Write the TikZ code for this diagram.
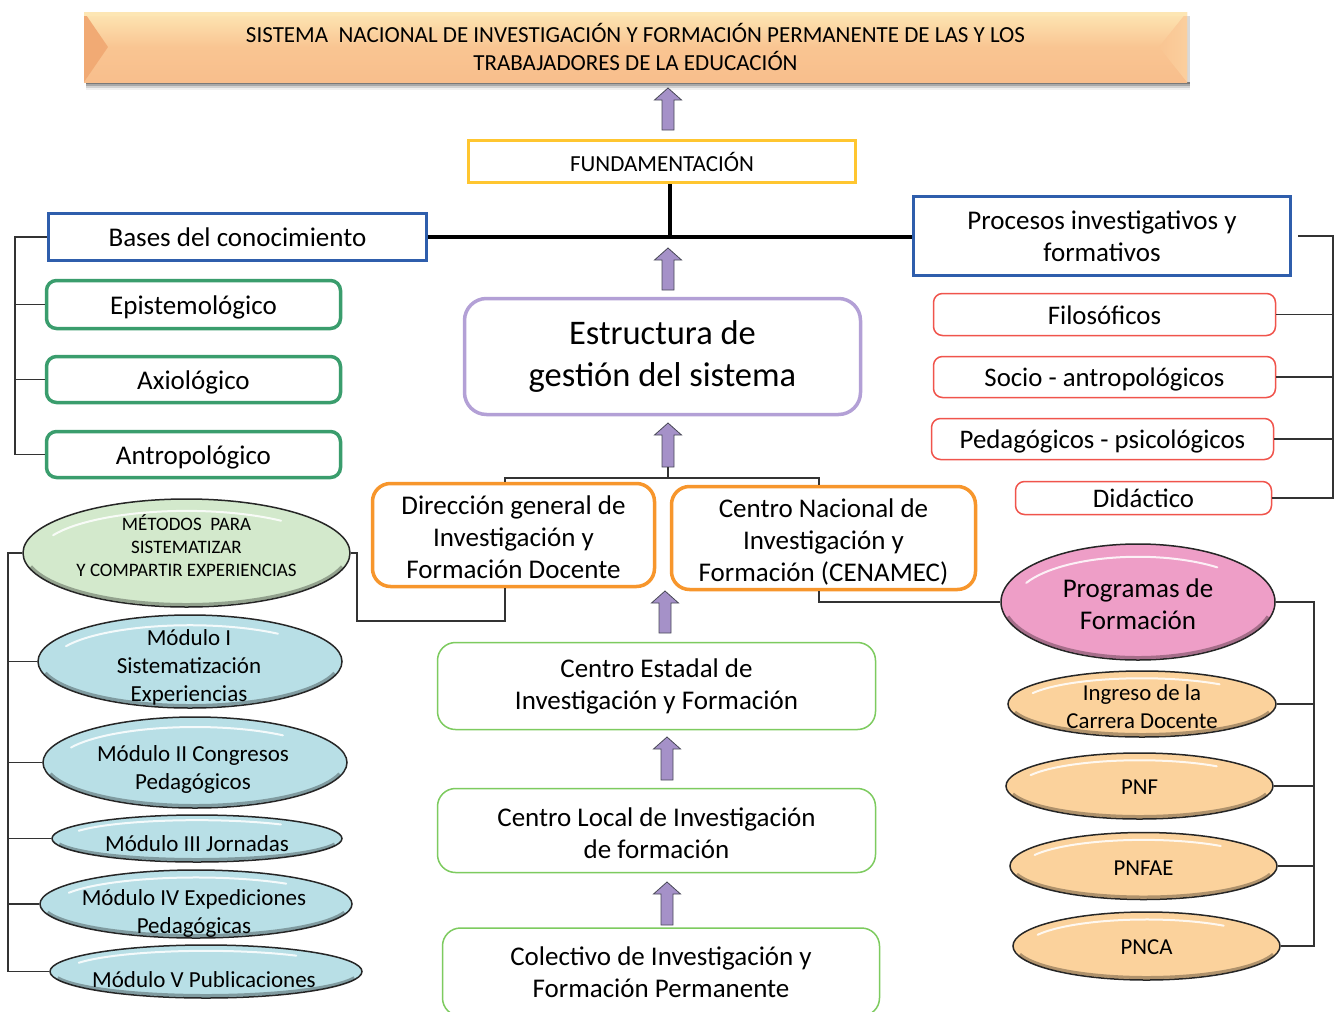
\documentclass[tikz,border=0pt]{standalone}
\usepackage{fontspec}
\setmainfont{Carlito}
\usetikzlibrary{calc,shapes.geometric}
\definecolor{cArrow}{HTML}{A591C8}
\definecolor{cArrowLine}{HTML}{4A4A58}
\definecolor{cYellow}{HTML}{FFC630}
\definecolor{cBlue}{HTML}{2F5EAC}
\definecolor{cPurple}{HTML}{B3A0D6}
\definecolor{cOrange}{HTML}{F7962C}
\definecolor{cLGreen}{HTML}{7DCB5F}
\definecolor{cDGreen}{HTML}{3A9D6D}
\definecolor{cRed}{HTML}{F0544C}
\definecolor{cLine}{HTML}{333333}
\definecolor{eGreen}{HTML}{D3E9CC}
\definecolor{eCyan}{HTML}{B8DFE6}
\definecolor{ePink}{HTML}{EE9EC7}
\definecolor{ePeach}{HTML}{FBD29C}
\definecolor{bTop}{HTML}{FDE6B4}
\definecolor{bMid}{HTML}{F9C592}
\definecolor{bBot}{HTML}{F8BE8C}
\definecolor{bLeft}{HTML}{F1AA74}
\definecolor{bRight}{HTML}{FBCF9E}
\newcommand{\myfs}[2]{\fontsize{#1pt}{#2pt}\selectfont}
\newcommand{\strutto}[1]{\rule{0pt}{#1pt}}
\newcommand{\blockup}[3]{%
  \filldraw[blockarrow] (#1,#2) -- (#1+13.5,#2+12) -- (#1+6,#2+12) -- (#1+6,#3) -- (#1-6,#3) -- (#1-6,#2+12) -- (#1-13.5,#2+12) -- cycle;}
\newcommand{\ellnode}[6]{%
  \node[ellbase, fill=#6, minimum width=#4pt, minimum height=#5pt] (#1) at (#2,#3) {};
  \draw[black, opacity=.3, line width=3pt] ($(#2,#3)+({(#4/2-2.5)*cos(165)},{(#5/2-2.5)*sin(165)})$)
     arc[start angle=165, end angle=15, x radius={#4/2-2.5}, y radius={#5/2-2.5}];
  \draw[white, opacity=.85, line width=2pt, line cap=round] ($(#2,#3)+({(#4/2)*0.9*cos(205)},{(#5/2)*0.78*sin(205)})$)
     arc[start angle=205, end angle=310, x radius={#4/2*0.9}, y radius={#5/2*0.78}];
}
\begin{document}
\begin{tikzpicture}[x=1pt,y=-1pt,
  blockarrow/.style={fill=cArrow, draw=cArrowLine, line width=0.8pt, line join=miter},
  conn/.style={draw=cLine, line width=1.3pt},
  box/.style={align=center, inner sep=0pt, text=black},
  sqbox/.style={box, draw, fill=white},
  rbox/.style={box, draw, fill=white},
  ellbase/.style={ellipse, draw=black!85, line width=1.5pt, inner sep=0pt},
  fbig/.style={font=\myfs{27}{32}},
  fmid/.style={font=\myfs{23}{28}},
  oneline/.style={text height=#1pt, text depth=6pt},
  ]
\useasboundingbox (0,0) rectangle (1339,1012);
\fill[white] (0,0) rectangle (1339,1012);

% ---------- banner ----------
\foreach \d/\o in {2/.28,4/.20,6/.12,8/.06}
  \fill[black,opacity=\o] (86,82) rectangle (1190,82+\d);
\fill[black,opacity=.15] (1187,16) rectangle (1190,82);
\node[box, minimum width=1103pt, minimum height=70pt,
  top color=bTop, bottom color=bBot, middle color=bMid,
  font=\myfs{23}{28},
  path picture={
    \shade[left color=bLeft, right color=bMid]
      (path picture bounding box.north west) -- ++(24pt,-35pt) -- (path picture bounding box.south west) -- cycle;
    \shade[left color=bMid, right color=bRight]
      (path picture bounding box.north east) -- ++(-28pt,-35pt) -- (path picture bounding box.south east) -- cycle;
    \fill[bTop] (path picture bounding box.north west) rectangle ([yshift=-4pt]path picture bounding box.north east);
  }] (banner) at (635.5,47)
  {SISTEMA~ NACIONAL DE INVESTIGACIÓN Y FORMACIÓN PERMANENTE DE LAS Y LOS\\TRABAJADORES DE LA EDUCACIÓN};

% ---------- central column ----------
\node[sqbox, draw=cYellow, line width=3pt, minimum width=387pt, minimum height=42pt, font=\myfs{23}{28}] (fund) at (662,161.5) {FUNDAMENTACIÓN};
\node[sqbox, fbig, draw=cBlue, line width=3.2pt, minimum width=378pt, minimum height=47pt] (bases) at (237.5,237) {Bases del conocimiento};
\node[sqbox, fbig, draw=cBlue, line width=3.2pt, minimum width=377pt, minimum height=79pt] (proc) at (1102,236) {Procesos investigativos y\\formativos};
\node[rbox, draw=cPurple, line width=3.5pt, rounded corners=22pt, minimum width=396pt, minimum height=116pt, font=\myfs{34.5}{42}] (estr) at (662.5,356.5) {Estructura de\\gestión del sistema};
\node[rbox, fbig, draw=cOrange, line width=3.5pt, rounded corners=18pt, minimum width=282pt, minimum height=103pt] (dir) at (513.5,535) {\strutto{24}Dirección general de\\Investigación y\\Formación Docente};
\node[rbox, fbig, draw=cOrange, line width=3.5pt, rounded corners=18pt, minimum width=304pt, minimum height=103pt] (cen) at (823.5,538) {\strutto{26}Centro Nacional de\\Investigación y\\Formación (CENAMEC)};
\node[rbox, fbig, draw=cLGreen, line width=1.5pt, rounded corners=18pt, minimum width=438pt, minimum height=87pt] (est) at (656.5,686) {Centro Estadal de\\Investigación y Formación};
\node[rbox, fbig, draw=cLGreen, line width=1.5pt, rounded corners=18pt, minimum width=438pt, minimum height=84pt] (loc) at (656.5,830.5) {\strutto{24}Centro Local de Investigación\\de formación};
\node[rbox, fbig, draw=cLGreen, line width=1.5pt, rounded corners=18pt, minimum width=437pt, minimum height=88pt] (col) at (661,972) {Colectivo de Investigación y\\Formación Permanente};

% ---------- left boxes ----------
\node[rbox, fbig, oneline=26, draw=cDGreen, line width=3.5pt, rounded corners=10pt, minimum width=294pt, minimum height=48pt] (epi) at (193.5,304.5) {Epistemológico};
\node[rbox, fbig, oneline=26, draw=cDGreen, line width=3.5pt, rounded corners=10pt, minimum width=294pt, minimum height=46pt] (axi) at (193.5,379.5) {Axiológico};
\node[rbox, fbig, oneline=26, draw=cDGreen, line width=3.5pt, rounded corners=10pt, minimum width=294pt, minimum height=46pt] (ant) at (193.5,454.5) {Antropológico};

% ---------- right boxes ----------
\node[rbox, font=\myfs{26.8}{30}, oneline=25, draw=cRed, line width=1.5pt, rounded corners=9pt, minimum width=342pt, minimum height=42pt] (fil) at (1104.5,314.5) {Filosóficos};
\node[rbox, font=\myfs{26.8}{30}, oneline=25, draw=cRed, line width=1.5pt, rounded corners=9pt, minimum width=342pt, minimum height=41pt] (soc) at (1104.5,377) {Socio - antropológicos};
\node[rbox, font=\myfs{26.8}{30}, oneline=24, draw=cRed, line width=1.5pt, rounded corners=9pt, minimum width=342pt, minimum height=41pt] (ped) at (1102.5,439) {Pedagógicos - psicológicos};
\node[rbox, font=\myfs{26.8}{30}, oneline=24, draw=cRed, line width=1.5pt, rounded corners=9pt, minimum width=256pt, minimum height=33pt] (did) at (1143.5,498) {Didáctico};

% ---------- left ellipses ----------
\ellnode{met}{186.5}{553}{327}{108}{eGreen}
\ellnode{m1}{190}{661.5}{304}{93}{eCyan}
\ellnode{m2}{195}{762.5}{304}{91}{eCyan}
\ellnode{m3}{197}{838.5}{290}{47}{eCyan}
\ellnode{m4}{196}{904}{312}{68}{eCyan}
\ellnode{m5}{206}{971.5}{312}{53}{eCyan}
\node[box, font=\myfs{19}{23}] (tmet) at ([yshift=7pt]met.center) {MÉTODOS~ PARA\\SISTEMATIZAR\\Y COMPARTIR EXPERIENCIAS};
\node[box, fmid] (tm1) at ([yshift=-6pt,xshift=-1pt]m1.center) {Módulo I\\Sistematización\\Experiencias};
\node[box, fmid] (tm2) at ([yshift=-6.5pt,xshift=-2pt]m2.center) {Módulo II Congresos\\Pedagógicos};
\node[box, fmid] (tm3) at ([yshift=-5.5pt]m3.center) {Módulo III Jornadas};
\node[box, fmid] (tm4) at ([yshift=-9pt,xshift=-2pt]m4.center) {Módulo IV Expediciones\\Pedagógicas};
\node[box, fmid] (tm5) at ([yshift=-8pt,xshift=-2pt]m5.center) {Módulo V Publicaciones};

% ---------- right ellipses ----------
\ellnode{prog}{1138}{602}{274}{116}{ePink}
\ellnode{ing}{1142}{704}{268}{66}{ePeach}
\ellnode{pnf}{1139.5}{786}{267}{66}{ePeach}
\ellnode{pnfae}{1143.5}{866}{267}{67}{ePeach}
\ellnode{pnca}{1146.5}{946}{267}{68}{ePeach}
\node[box, fbig] (tprog) at ([yshift=-2pt]prog.center) {Programas de\\Formación};
\node[box, font=\myfs{22.8}{28}] (ting) at ([yshift=-2.5pt]ing.center) {Ingreso de la\\Carrera Docente};
\node[box, font=\myfs{22.8}{28}] (tpnf) at ([yshift=-1.5pt]pnf.center) {PNF};
\node[box, font=\myfs{22.8}{28}] (tpnfae) at ([yshift=-2.5pt]pnfae.center) {PNFAE};
\node[box, font=\myfs{22.8}{28}] (tpnca) at ([yshift=-1.5pt]pnca.center) {PNCA};

% ---------- block arrows ----------
\blockup{668}{88}{130}
\blockup{668}{248}{290}
\blockup{668}{423}{467}
\blockup{665}{591}{633}
\blockup{667}{737}{780}
\blockup{667}{882}{925}

% ---------- connectors ----------
\coordinate (jx) at (670,0);
\draw[line width=3.2pt, black] (bases.east) -- (bases.east -| proc.west);
\draw[line width=3.2pt, black] (fund.south -| jx) -- (bases.east -| jx);

\coordinate (lb) at (15,0);
\draw[conn] (bases.west) -- (bases.west -| lb) -- (ant.west -| lb) -- (ant.west);
\draw[conn] (epi.west) -- (epi.west -| lb);
\draw[conn] (axi.west) -- (axi.west -| lb);

\coordinate (rb) at (1333,0);
\draw[conn] ([xshift=6pt]proc.east) -- (proc.east -| rb) -- (did.east -| rb) -- (did.east);
\foreach \n in {fil,soc,ped} \draw[conn] (\n.east) -- (\n.east -| rb);

\coordinate (tb) at (668,478);
\draw[conn] ([xshift=-8.5pt]dir.north) -- ([xshift=-8.5pt]dir.north |- tb) -- ([xshift=-4.5pt]cen.north |- tb) -- ([xshift=-4.5pt]cen.north);
\draw[conn] (tb) -- ++(0,-11);

\coordinate (md) at (357,621);
\draw[conn] (met.east) -- (met.east -| md) -- (md) -- ([xshift=-8.5pt]dir.south |- md) -- ([xshift=-8.5pt]dir.south);

\draw[conn] ([xshift=-4.5pt]cen.south) |- (prog.west);

\coordinate (le) at (8,0);
\draw[conn] (met.west) -- (met.west -| le) -- (m5.west -| le) -- (m5.west);
\foreach \n in {m1,m2,m3,m4} \draw[conn] (\n.west) -- (\n.west -| le);

\coordinate (re) at (1314,0);
\draw[conn] (prog.east) -- (prog.east -| re) -- (pnca.east -| re) -- (pnca.east);
\foreach \n in {ing,pnf,pnfae} \draw[conn] (\n.east) -- (\n.east -| re);
\end{tikzpicture}
\end{document}
